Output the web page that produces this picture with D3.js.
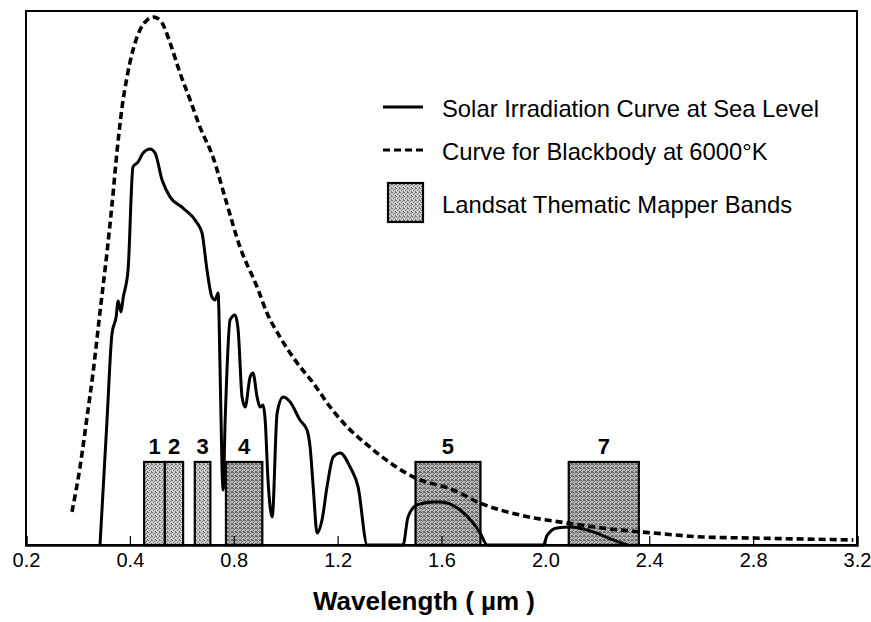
<!DOCTYPE html>
<html>
<head>
<meta charset="utf-8">
<script src="https://cdn.jsdelivr.net/npm/d3@7"></script>
<style>
  html, body { margin: 0; padding: 0; background: #fff; }
  svg { display: block; font-family: "Liberation Sans", Arial, Helvetica, sans-serif; }
</style>
</head>
<body>
<svg id="chart" width="871" height="622"></svg>
<script>
// ---------- data ----------
// wavelength (µm) and irradiance (W m^-2 µm^-1, approx.)
const solarWavelength = [0.285,0.312,0.331,0.347,0.355,0.366,0.374,0.393,0.412,0.431,0.451,0.478,0.497,0.524,0.555,0.605,0.659,0.678,0.697,0.716,0.728,0.740,0.743,0.755,0.759,0.767,0.786,0.805,0.817,0.832,0.844,0.863,0.874,0.890,0.901,0.913,0.921,0.932,0.948,0.967,0.990,1.017,1.055,1.082,1.094,1.106,1.121,1.140,1.159,1.183,1.210,1.248,1.279,1.314,1.452,1.471,1.506,1.568,1.595,1.672,1.722,1.749,1.776,1.992,2.007,2.045,2.096,2.184,2.261,2.315];
const solarIrradiance = [0,468,790,854,914,873,925,1030,1416,1434,1468,1483,1468,1367,1303,1262,1206,1168,1030,929,918,944,869,281,206,468,843,861,805,554,517,629,644,554,517,524,468,243,105,494,554,536,468,431,367,217,45,94,217,330,345,292,217,0,0,105,150,161,161,131,82,45,0,0,37,64,67,49,19,0];

const blackbodyWavelength = [0.177,0.208,0.235,0.258,0.285,0.312,0.331,0.351,0.370,0.389,0.412,0.439,0.466,0.493,0.524,0.555,0.593,0.632,0.670,0.720,0.766,0.824,0.890,0.928,0.978,1.044,1.106,1.171,1.237,1.314,1.414,1.491,1.645,1.749,1.903,2.084,2.288,2.415,2.608,2.800,3.186];
const blackbodyIrradiance = [124,292,479,644,873,1097,1273,1479,1640,1753,1854,1929,1966,1977,1955,1880,1768,1667,1565,1453,1303,1116,966,869,779,682,607,517,442,375,300,255,206,157,112,82,56,45,30,26,19];

const bandNames = ["1","2","3","4","5","7"];
const bandStart = [0.455,0.535,0.650,0.770,1.500,2.090];
const bandEnd   = [0.535,0.605,0.710,0.910,1.750,2.360];
const bandHeight = [311,311,311,311,311,311];

const tickValues = [0,0.4,0.8,1.2,1.6,2.0,2.4,2.8,3.2];
const tickLabels = ["0.2","0.4","0.8","1.2","1.6","2.0","2.4","2.8","3.2"];

const legendLabels = ["Solar Irradiation Curve at Sea Level","Curve for Blackbody at 6000°K","Landsat Thematic Mapper Bands"];

// ---------- drawing ----------
const svg = d3.select("#chart");
const x = d3.scaleLinear().domain([0, 3.2]).range([26, 857]);
const y = d3.scaleLinear().domain([0, 2000]).range([545, 11]);

// stipple pattern for bands
const defs = svg.append("defs");
const pat = defs.append("pattern").attr("id","stipple").attr("patternUnits","userSpaceOnUse")
  .attr("width",4).attr("height",4);
pat.append("rect").attr("width",4).attr("height",4).attr("fill","#d0d0d0");
[[0,0],[2,1],[1,2],[3,3],[3,0]].forEach(p => {
  pat.append("rect").attr("x",p[0]).attr("y",p[1]).attr("width",1).attr("height",1).attr("fill","#707070");
});
const pat2 = defs.append("pattern").attr("id","stippleDark").attr("patternUnits","userSpaceOnUse")
  .attr("width",4).attr("height",4);
pat2.append("rect").attr("width",4).attr("height",4).attr("fill","#bcbcbc");
[[0,0],[2,1],[1,2],[3,3],[3,0],[1,0],[0,3]].forEach(p => {
  pat2.append("rect").attr("x",p[0]).attr("y",p[1]).attr("width",1).attr("height",1).attr("fill","#666");
});

// frame
svg.append("rect")
  .attr("x", x(0)).attr("y", y(2000))
  .attr("width", x(3.2) - x(0)).attr("height", y(0) - y(2000))
  .attr("fill","none").attr("stroke","#000").attr("stroke-width",2);

// bands
const bands = bandNames.map((n,i) => ({name:n, s:bandStart[i], e:bandEnd[i], h:bandHeight[i]}));
svg.append("g").selectAll("rect").data(bands).join("rect")
  .attr("x", d => x(d.s)).attr("y", d => y(d.h))
  .attr("width", d => x(d.e) - x(d.s)).attr("height", d => y(0) - y(d.h))
  .attr("fill", (d,i) => i < 3 ? "url(#stipple)" : "url(#stippleDark)")
  .attr("stroke","#000").attr("stroke-width",2.2);

svg.append("g").selectAll("text").data(bands).join("text")
  .attr("x", d => x((d.s + d.e) / 2)).attr("y", d => y(d.h) - 8)
  .attr("text-anchor","middle").attr("font-size",22).attr("font-weight","bold")
  .text(d => d.name);

// curves
const solar = solarWavelength.map((w,i) => [w, solarIrradiance[i]]);
const blackbody = blackbodyWavelength.map((w,i) => [w, blackbodyIrradiance[i]]);
const line = d3.line().x(d => x(d[0])).y(d => y(d[1])).curve(d3.curveMonotoneX);

svg.append("path").datum(blackbody).attr("d", line)
  .attr("fill","none").attr("stroke","#000").attr("stroke-width",3.6)
  .attr("stroke-dasharray","7,4");

svg.append("path").datum(solar).attr("d", line)
  .attr("fill","none").attr("stroke","#000").attr("stroke-width",3)
  .attr("stroke-linejoin","round");

// x axis
const axis = d3.axisBottom(x).tickValues(tickValues)
  .tickFormat((d,i) => tickLabels[i]).tickSize(-9).tickPadding(8);
const gAxis = svg.append("g").attr("transform", `translate(0,${y(0)})`).call(axis);
gAxis.select(".domain").attr("stroke","#000").attr("stroke-width",2.5);
gAxis.selectAll(".tick line").attr("stroke","#000").attr("stroke-width",1.2);
gAxis.selectAll(".tick text").attr("font-size",20).attr("fill","#000")
  .attr("font-family","'Liberation Sans', Arial, sans-serif");

// axis title
svg.append("text").attr("x", 424).attr("y", 610)
  .attr("text-anchor","middle").attr("font-size",26).attr("font-weight","bold")
  .attr("xml:space","preserve")
  .text("Wavelength ( µm )");

// legend
const lg = svg.append("g");
lg.append("line").attr("x1",383).attr("x2",423).attr("y1",107).attr("y2",107)
  .attr("stroke","#000").attr("stroke-width",3);
lg.append("line").attr("x1",383).attr("x2",423).attr("y1",150).attr("y2",150)
  .attr("stroke","#000").attr("stroke-width",3).attr("stroke-dasharray","7,4");
lg.append("rect").attr("x",388).attr("y",183).attr("width",35).attr("height",39)
  .attr("fill","url(#stipple)").attr("stroke","#000").attr("stroke-width",2.2);
lg.selectAll("text").data(legendLabels).join("text")
  .attr("x",442).attr("y",(d,i) => [117,160,213][i])
  .attr("font-size",23.8).attr("fill","#000")
  .text(d => d);
</script>
</body>
</html>
